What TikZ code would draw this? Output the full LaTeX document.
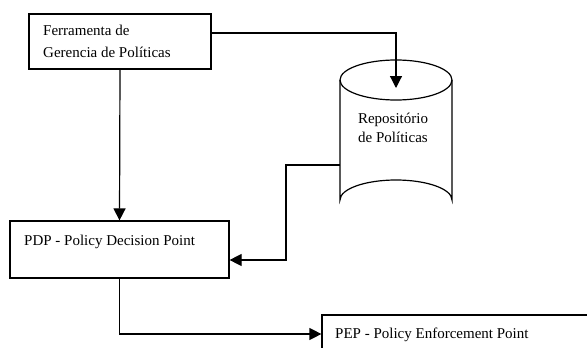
\documentclass[tikz,border=0pt]{standalone}
\usepackage{fontspec}
\setmainfont{Liberation Serif}
\usetikzlibrary{arrows.meta}
\tikzset{
  box/.style={draw, line width=1.2pt, rectangle, inner sep=0pt},
  lbl/.style={font=\fontsize{15}{22}\selectfont, inner sep=0pt, anchor=west, align=left},
  conn/.style={line width=1.2pt, -{Triangle[length=12pt,width=12pt]}},
}
\begin{document}
\begin{tikzpicture}[x=1pt,y=-1pt]
\useasboundingbox (0,0) rectangle (587,348);
\clip (0,0) rectangle (587,348);
% box 1
\node[box, minimum width=182pt, minimum height=55pt] (tool) at (120,41.5) {};
\draw[line width=2.4pt] (29,69) -- (211,69);
\node[lbl] (tooltxt) at (43,41) {Ferramenta de\\Gerencia de Políticas};
% cylinder
\coordinate (repo) at (396,80);
\draw[line width=1.2pt] (340,80) -- (340,200) arc[start angle=180, end angle=360, x radius=56pt, y radius=-20pt] -- (452,80);
\draw[line width=1.2pt] (repo) ellipse[x radius=56pt, y radius=20pt];
\node[font=\fontsize{15}{19}\selectfont, inner sep=0pt, align=center] (repotxt) at (393,128) {Repositório\\de Políticas};
\coordinate (repotop) at (396,88);
\coordinate (repoleft) at (340,165);
% PDP
\node[box, minimum width=219pt, minimum height=57pt] (pdp) at (119.5,249.5) {};
\node[lbl] (pdptxt) at (24,242) {PDP - Policy Decision Point};
% PEP
\node[box, minimum width=300pt, minimum height=60pt] (pep) at (472,345) {};
\node[lbl] (peptxt) at (335,335) {PEP - Policy Enforcement Point};
% connectors
\draw[conn] (tool.east |- 0,33) -| (repotop);
\draw[conn] (tool.south) -- (pdp.north);
\draw[conn] (repoleft) -- (286,165) |- (pdp.east |- 0,260);
\draw[conn] (pdp.south) |- (pep.west |- 0,334);
\end{tikzpicture}
\end{document}
